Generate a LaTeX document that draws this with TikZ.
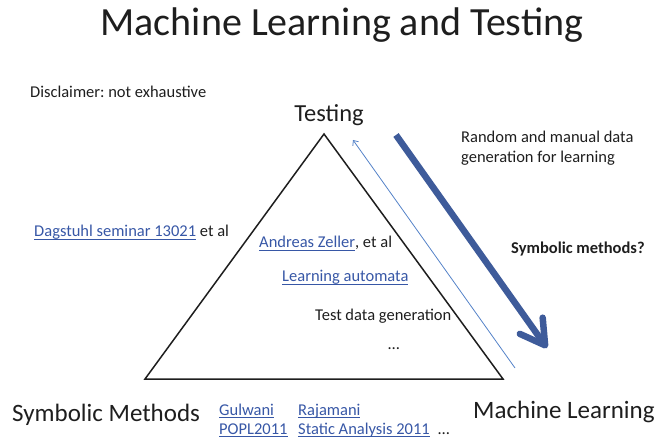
\documentclass[tikz,border=0pt]{standalone}
\usepackage{fontspec}
\setmainfont{Carlito}
\usepackage{xcolor}
\usetikzlibrary{arrows.meta}
\definecolor{linkblue}{RGB}{55,87,166}
\definecolor{arrowblue}{RGB}{62,91,154}
\definecolor{thinblue}{RGB}{84,130,200}
\definecolor{txt}{RGB}{30,30,30}
\newcommand{\weblink}[1]{{\color{linkblue}\sbox0{#1}\rlap{\rule[-2.6bp]{\wd0}{0.9bp}}\usebox0}}
\frenchspacing
\tikzset{
small/.style={inner sep=0pt,anchor=base west,text=txt,font=\fontsize{16.5bp}{20bp}\selectfont},
big/.style={inner sep=0pt,anchor=base west,text=txt,font=\fontsize{25bp}{30bp}\selectfont}
}

\begin{document}
\begin{tikzpicture}[x=1bp,y=-1bp,>=Stealth]
\useasboundingbox (0,0) rectangle (662,441);
\node[inner sep=0pt,anchor=base,text=txt,font=\fontsize{40bp}{48bp}\selectfont] (title) at (342,36) {Machine Learning and Testing};
\node[small] (disclaimer) at (30,98) {Disclaimer: not exhaustive};
% corners of the triangle
\coordinate (top) at (324,134);
\coordinate (left) at (145,379);
\coordinate (right) at (503,379);
\draw[line width=1.5bp,txt] (top)--(left)--(right)--cycle;
\node[inner sep=0pt,anchor=base,text=txt,font=\fontsize{24.5bp}{30bp}\selectfont] (testing) at (329,122) {Testing};
\node[big] (symb) at (12,421) {Symbolic Methods};
\node[big] (ml) at (473,418) {Machine Learning};
% arrows along the right side
\coordinate (thinfrom) at (515,368);
\coordinate (thinto) at (353,140);
\draw[thinblue,line width=0.8bp,-{Straight Barb[length=4bp,width=7bp]}] (thinfrom)--(thinto);
\coordinate (thickfrom) at (396,135);
\coordinate (thickto) at (547,348);
\draw[arrowblue,line width=6.5bp,-{Straight Barb[round,length=24bp,width=28bp]}] (thickfrom)--(thickto);
% labels
\node[small] (dagstuhl) at (34,237) {\weblink{Dagstuhl seminar 13021} et al};
\node[small] (zeller) at (259,248) {\weblink{Andreas Zeller}, et al};
\node[small] (automata) at (282,282) {\weblink{Learning automata}};
\node[small] (testdata) at (315,321) {Test data generation};
\node[small] (dots) at (388,349) {…};
\node[small,align=left] (random) at (461,163) {Random and manual data\\generation for learning};
\node[small,font=\fontsize{16.5bp}{20bp}\selectfont\bfseries] (symq) at (511,254) {Symbolic methods?};
\node[small] (gulwani) at (219,415) {\weblink{Gulwani}};
\node[small] (popl) at (219,434) {\weblink{POPL2011}};
\node[small] (rajamani) at (298,415) {\weblink{Rajamani}};
\node[small] (sas) at (298,434) {\weblink{Static Analysis 2011}};
\node[small] (more) at (438,434) {…};
\end{tikzpicture}
\end{document}
